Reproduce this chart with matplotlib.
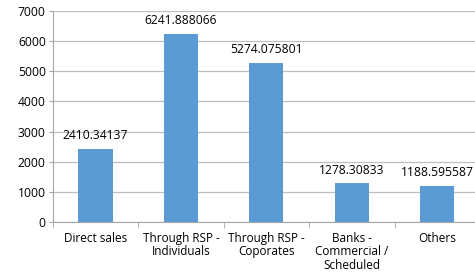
import matplotlib
matplotlib.use('Agg')
import matplotlib.pyplot as plt
import numpy as np

categories = ['Direct sales', 'Through RSP -\nIndividuals', 'Through RSP -\nCoporates',
              'Banks -\nCommercial /\nScheduled', 'Others']
values = [2410.34137, 6241.888066, 5274.075801, 1278.30833, 1188.595587]
labels = ['2410.34137', '6241.888066', '5274.075801', '1278.30833', '1188.595587']

plt.rcParams['font.family'] = ['Open Sans', 'DejaVu Sans']

fig = plt.figure(figsize=(4.75, 2.73), dpi=100)
ax = fig.add_axes([52.7 / 475, 51 / 273, 427.3 / 475, 211 / 273])

x = np.arange(len(categories))
bars = ax.bar(x, values, width=0.4, color='#5B9BD5', zorder=3)

for b, lab in zip(bars, labels):
    ax.annotate(lab, (b.get_x() + b.get_width() / 2, b.get_height()),
                xytext=(0, 5), textcoords='offset points',
                ha='center', va='bottom', fontsize=8.7, color='#000000')

ax.set_xlim(-0.5, len(categories) - 0.5)
ax.set_ylim(0, 7000)
ax.set_yticks(range(0, 7001, 1000))
ax.tick_params(axis='y', labelsize=8.7, length=3, color='#A6A6A6', pad=2)
ax.yaxis.grid(True, color='#BFBFBF', linewidth=0.9, zorder=0)

ax.set_xticks(x)
ax.set_xticklabels(categories, fontsize=8.5, linespacing=1.05)
ax.tick_params(axis='x', length=0, pad=7)
ax.set_xticks(np.arange(-0.5, len(categories), 1.0), minor=True)
ax.tick_params(axis='x', which='minor', length=4, color='#A6A6A6')

for s in ['top', 'right']:
    ax.spines[s].set_visible(False)
for s in ['left', 'bottom']:
    ax.spines[s].set_color('#A6A6A6')

fig.savefig('out.png', dpi=100)
